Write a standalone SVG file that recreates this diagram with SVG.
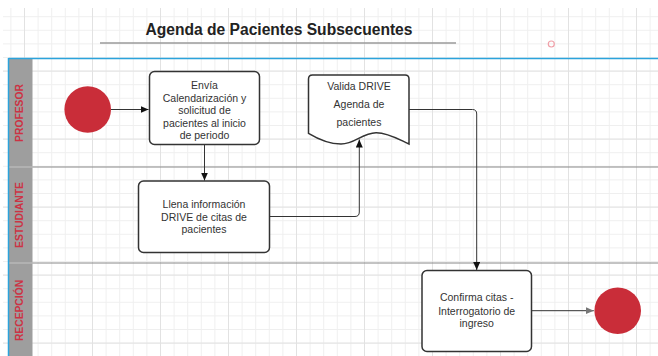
<svg xmlns="http://www.w3.org/2000/svg" width="658" height="356" viewBox="0 0 658 356">
<style>
  .box{fill:#fff;stroke:#333;stroke-width:1.5}
  .t{font-family:"Liberation Sans",Arial,sans-serif;font-size:10.5px;fill:#333;text-anchor:middle}
  .lane{font-family:"Liberation Sans",Arial,sans-serif;font-size:10.3px;font-weight:bold;fill:#cc3344;text-anchor:middle}
  .c{fill:none;stroke:#333;stroke-width:1}
  .ev{fill:#c92d39}
</style>
<defs>
  <pattern id="minor" patternUnits="userSpaceOnUse" x="10.4" y="2.6" width="13.6" height="13.6">
    <path d="M0,0.5 H13.6 M0.5,0 V13.6" stroke="#efefef" stroke-width="1" fill="none"/>
  </pattern>
  <pattern id="major" patternUnits="userSpaceOnUse" x="24" y="2.6" width="68" height="68">
    <path d="M0,0.5 H68 M0.5,0 V68" stroke="#e2e2e2" stroke-width="1" fill="none"/>
  </pattern>
  <marker id="ah" markerUnits="userSpaceOnUse" markerWidth="9" markerHeight="8" refX="8" refY="3.5" orient="auto">
    <path d="M0,0 L8,3.5 L0,7 z" fill="#111"/>
  </marker>
  <marker id="ahg" markerUnits="userSpaceOnUse" markerWidth="9" markerHeight="8" refX="8" refY="3.5" orient="auto">
    <path d="M0,0 L8,3.5 L0,7 z" fill="#777"/>
  </marker>
</defs>
<rect width="658" height="356" fill="#fff"/>
<rect x="3" y="8" width="655" height="348" fill="url(#minor)"/>
<rect x="3" y="8" width="655" height="348" fill="url(#major)"/>

<g id="title">
  <text x="279" y="34.5" font-family="'Liberation Sans',Arial,sans-serif" font-size="15.6" font-weight="bold" fill="#222" text-anchor="middle">Agenda de Pacientes Subsecuentes</text>
  <line x1="100" y1="43" x2="456" y2="43" stroke="#9a9a9a" stroke-width="1.5"/>
  <circle cx="551.3" cy="44" r="3" fill="none" stroke="#f0a0a8" stroke-width="1.2"/>
</g>

<g id="pool">
  <rect x="8.5" y="58.5" width="24" height="298" fill="#9e9e9e"/>
  <line x1="8.5" y1="167" x2="32.5" y2="167" stroke="#c4c4c4" stroke-width="1"/>
  <line x1="8.5" y1="263" x2="32.5" y2="263" stroke="#c4c4c4" stroke-width="1"/>
  <line x1="32.5" y1="167" x2="658" y2="167" stroke="#888" stroke-width="1"/>
  <line x1="32.5" y1="263" x2="658" y2="263" stroke="#888" stroke-width="1"/>
  <line x1="8.5" y1="58.5" x2="658" y2="58.5" stroke="#2ba3dc" stroke-width="1.5"/>
  <line x1="8.5" y1="58" x2="8.5" y2="356" stroke="#2ba3dc" stroke-width="1.5"/>
  <text class="lane" transform="translate(23.4,113) rotate(-90)">PROFESOR</text>
  <text class="lane" transform="translate(23.4,215) rotate(-90)">ESTUDIANTE</text>
  <text class="lane" transform="translate(23.4,310.5) rotate(-90)">RECEPCIÓN</text>
</g>

<g id="start">
  <circle class="ev" cx="87.7" cy="109.5" r="23.3"/>
</g>

<g id="envia">
  <rect class="box" x="149.5" y="71.5" width="110" height="73" rx="5"/>
  <text class="t" x="204.5" y="89">Envía</text>
  <text class="t" x="204.5" y="101.5">Calendarización y</text>
  <text class="t" x="204.5" y="114">solicitud de</text>
  <text class="t" x="204.5" y="126.5">pacientes al inicio</text>
  <text class="t" x="204.5" y="139">de periodo</text>
</g>

<g id="llena">
  <rect class="box" x="138.5" y="181" width="131" height="71.5" rx="5"/>
  <text class="t" x="204" y="207.8">Llena información</text>
  <text class="t" x="204" y="220.5">DRIVE de citas de</text>
  <text class="t" x="204" y="233">pacientes</text>
</g>

<g id="valida">
  <path class="box" d="M308.5,79 Q308.5,75 312.5,75 L405,75 Q409,75 409,79 L409,144 C400,140 388,132.5 376,132.7 C362,133 355,144 341,144 C330,144 318,139 308.5,133.3 Z"/>
  <text class="t" x="359" y="89.8">Valida DRIVE</text>
  <text class="t" x="359" y="108">Agenda de</text>
  <text class="t" x="359" y="125.5">pacientes</text>
</g>

<g id="confirma">
  <rect class="box" x="422" y="270.5" width="109.5" height="81" rx="5"/>
  <text class="t" x="476.7" y="301">Confirma citas -</text>
  <text class="t" x="476.7" y="314.5">Interrogatorio de</text>
  <text class="t" x="476.7" y="327">ingreso</text>
</g>

<g id="end">
  <circle class="ev" cx="617.7" cy="310.7" r="23.3"/>
</g>

<g id="connectors">
  <path class="c" d="M111,109.5 L148.5,109.5" marker-end="url(#ah)"/>
  <path class="c" d="M204.5,145 L204.5,180.5" marker-end="url(#ah)"/>
  <path class="c" d="M269.5,216.5 L355,216.5 Q359.3,216.5 359.3,212 L359.3,139.5" marker-end="url(#ah)"/>
  <path class="c" d="M409,109.5 L472.5,109.5 Q476.7,109.5 476.7,114 L476.7,270" marker-end="url(#ah)"/>
  <path class="c" d="M531.5,310.7 L593.8,310.7" stroke="#888" marker-end="url(#ahg)"/>
</g>
</svg>
